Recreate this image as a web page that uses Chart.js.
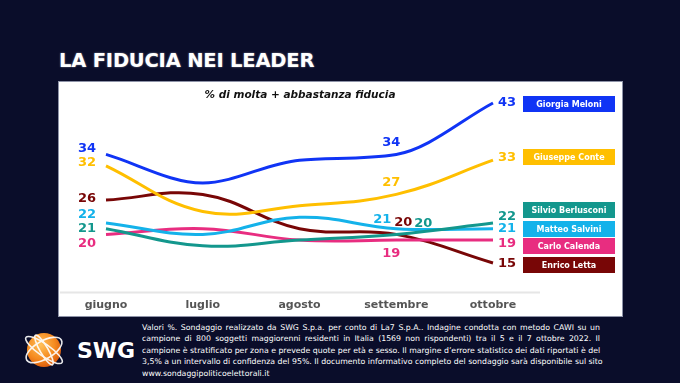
<!DOCTYPE html>
<html lang="it">
<head>
<meta charset="utf-8">
<title>La fiducia nei leader</title>
<script src="https://cdn.jsdelivr.net/npm/chart.js@4.4.0/dist/chart.umd.min.js"></script>
<style>
  html, body { margin: 0; padding: 0; }
  body { width: 680px; height: 383px; background: #0a0d2a; position: relative; overflow: hidden; font-family: "DejaVu Sans", Verdana, sans-serif; }
  #titolo { position: absolute; left: 59px; top: 49px; color: #fff; font-weight: bold; font-size: 19.5px; letter-spacing: -0.2px; text-shadow: 0 0 2px rgba(255,255,255,0.5); }
  #pannello { position: absolute; left: 59px; top: 82px; width: 563px; height: 234px; background: #fff; box-shadow: 0 0 0 1px #8e93a8; }
  #sottotitolo { position: absolute; left: 0; top: 6px; width: 482px; text-align: center; font-weight: bold; font-style: italic; font-size: 10.5px; color: #111; }
  #grafico { position: absolute; left: 0; top: 0; }
  #logo { position: absolute; left: 22px; top: 322px; }
  #note { position: absolute; left: 142px; top: 322px; width: 458px; color: #fff; font-size: 7.8px; line-height: 11.4px; }
  #note div { text-align: justify; text-align-last: justify; white-space: nowrap; }
  #note div.ultima { text-align-last: left; }
</style>
</head>
<body>
<div id="titolo">LA FIDUCIA NEI LEADER</div>
<div id="pannello">
  <canvas id="grafico" width="563" height="234"></canvas>
  <div id="sottotitolo">% di molta + abbastanza fiducia</div>
</div>

<svg id="logo" width="112" height="56" viewBox="0 0 112 56">
  <defs>
    <radialGradient id="sfera" cx="0.4" cy="0.35" r="0.7">
      <stop offset="0" stop-color="#ffc15a"/>
      <stop offset="0.6" stop-color="#f58a1f"/>
      <stop offset="1" stop-color="#d8560a"/>
    </radialGradient>
  </defs>
  <circle cx="22" cy="28" r="17" fill="url(#sfera)"/>
  <g fill="none" stroke="#fff" stroke-width="1.6" opacity="0.9">
    <ellipse cx="22" cy="28" rx="22" ry="6" transform="rotate(35 22 28)"/>
    <ellipse cx="22" cy="28" rx="20" ry="9" transform="rotate(-30 22 28)"/>
    <ellipse cx="22" cy="28" rx="17" ry="4" transform="rotate(60 22 28)"/>
  </g>
  <text x="55" y="36" fill="#fff" font-family="DejaVu Sans, sans-serif" font-weight="bold" font-size="22">SWG</text>
</svg>

<div id="note">
  <div>Valori %. Sondaggio realizzato da SWG S.p.a. per conto di La7 S.p.A.. Indagine condotta con metodo CAWI su un</div>
  <div>campione di 800 soggetti maggiorenni residenti in Italia (1569 non rispondenti) tra il 5 e il 7 ottobre 2022. Il</div>
  <div>campione è stratificato per zona e prevede quote per età e sesso. Il margine d’errore statistico dei dati riportati è del</div>
  <div>3,5% a un intervallo di confidenza del 95%. Il documento informativo completo del sondaggio sarà disponibile sul sito</div>
  <div class="ultima">www.sondaggipoliticoelettorali.it</div>
</div>

<script>
// dati
const mesi = ['giugno', 'luglio', 'agosto', 'settembre', 'ottobre'];
const leader = ['Giorgia Meloni', 'Giuseppe Conte', 'Silvio Berlusconi', 'Matteo Salvini', 'Carlo Calenda', 'Enrico Letta'];
const meloni = [34, 29, 33, 34, 43];
const conte = [32, 24, 25, 27, 33];
const berlusconi = [21, 18, 19, 20, 22];
const salvini = [22, 20, 23, 21, 21];
const calenda = [20, 21, 19, 19, 19];
const letta = [26, 27, 21, 20, 15];
const serie = [meloni, conte, berlusconi, salvini, calenda, letta];

// stile
const colori = ['#1034f5', '#ffbf00', '#13978d', '#14b2ea', '#e82d80', '#780606'];
const puntiEtichettati = [0, 3, 4];
// spostamenti delle etichette (dx, dy) per serie e punto
const spostamenti = [
    [[-19, -6], [-5, -12], [14, 0]],
    [[-19, -3], [-5, -12], [14, -3]],
    [[-19, 0], [27, -11], [14, -6]],
    [[-19, -8], [-14, -9], [14, 0]],
    [[-19, 9], [-5, 14], [14, 4]],
    [[-19, -1], [7, -12], [14, 1]]
];
// posizione verticale dei riquadri della legenda
const legendaY = [14, 67, 120, 139, 156, 175];

document.addEventListener('DOMContentLoaded', function () {
    const ctx = document.getElementById('grafico');

    // Linea grigia dell'asse
    const asseGrigio = {
        id: 'asseGrigio',
        beforeDatasetsDraw(chart) {
            const c = chart.ctx;
            const y = chart.chartArea.bottom + 1;
            c.save();
            c.strokeStyle = '#e6e6e6';
            c.lineWidth = 2;
            c.beginPath();
            c.moveTo(1, y);
            c.lineTo(481, y);
            c.stroke();
            c.restore();
        }
    };

    // Etichette dei valori
    const etichette = {
        id: 'etichette',
        afterDatasetsDraw(chart) {
            const c = chart.ctx;
            c.save();
            c.font = 'bold 13px "DejaVu Sans", Verdana, sans-serif';
            c.textAlign = 'center';
            c.textBaseline = 'middle';
            chart.data.datasets.forEach(function (ds, i) {
                const meta = chart.getDatasetMeta(i);
                c.fillStyle = ds.borderColor;
                puntiEtichettati.forEach(function (idx, k) {
                    const p = meta.data[idx];
                    const s = spostamenti[i][k];
                    c.fillText(String(ds.data[idx]), p.x + s[0], p.y + s[1]);
                });
            });
            c.restore();
        }
    };

    // Legenda a riquadri colorati
    const legendaRiquadri = {
        id: 'legendaRiquadri',
        afterDraw(chart) {
            const c = chart.ctx;
            c.save();
            c.font = 'bold 8px "DejaVu Sans", Verdana, sans-serif';
            c.textAlign = 'center';
            c.textBaseline = 'middle';
            chart.data.datasets.forEach(function (ds, i) {
                const x = 464, w = 92, h = 16, y = legendaY[i];
                c.fillStyle = ds.borderColor;
                c.fillRect(x, y, w, h);
                c.fillStyle = '#ffffff';
                c.fillText(ds.label, x + w / 2, y + h / 2 + 0.5);
            });
            c.restore();
        }
    };

    const datasets = serie.map(function (valori, i) {
        return {
            label: leader[i],
            data: valori,
            borderColor: colori[i],
            backgroundColor: colori[i],
            borderWidth: 3,
            pointRadius: 0,
            // Meloni monotona per evitare l'ondulazione tra agosto e settembre
            cubicInterpolationMode: i === 0 ? 'monotone' : 'default',
            tension: 0.4,
            fill: false
        };
    });

    new Chart(ctx, {
        type: 'line',
        data: { labels: mesi, datasets: datasets },
        options: {
            responsive: false,
            animation: false,
            layout: { padding: { left: 47, right: 129, top: 9.6, bottom: 0 } },
            plugins: {
                legend: { display: false },
                tooltip: { enabled: false },
                title: { display: false }
            },
            scales: {
                x: {
                    offset: false,
                    grid: { display: false, drawTicks: false },
                    border: { display: false },
                    ticks: {
                        color: '#555555',
                        font: { family: '"DejaVu Sans", Verdana, sans-serif', size: 11, weight: 'bold' },
                        padding: 7,
                        maxRotation: 0
                    },
                    afterFit(scale) { scale.height = 24.5; }
                },
                y: { display: false, min: 10, max: 45 }
            }
        },
        plugins: [asseGrigio, etichette, legendaRiquadri]
    });
});
</script>
</body>
</html>
